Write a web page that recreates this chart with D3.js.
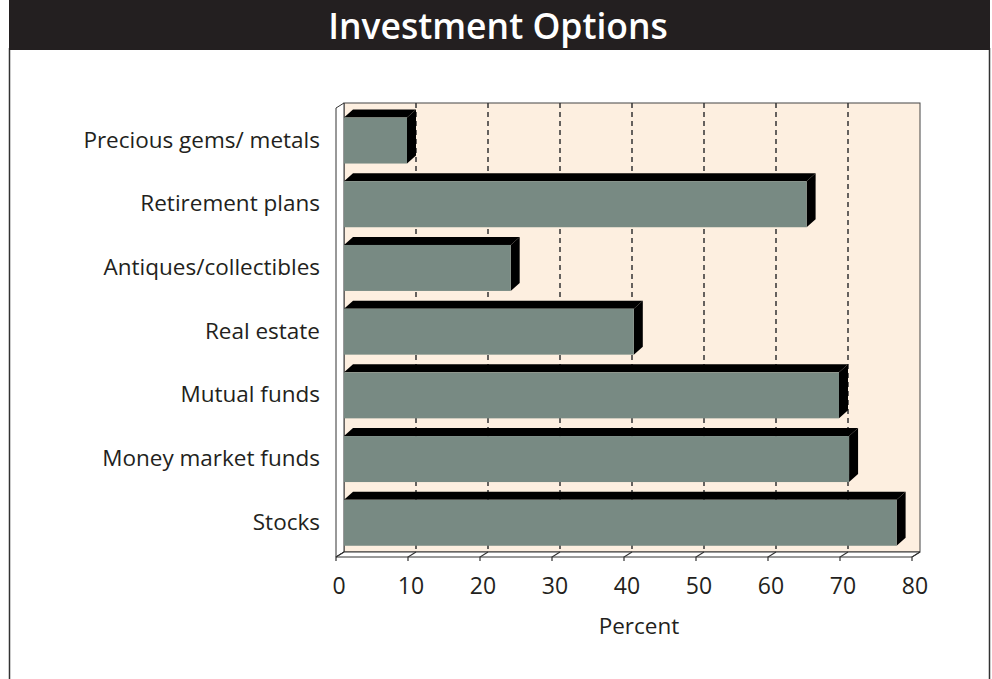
<!DOCTYPE html>
<html>
<head>
<meta charset="utf-8">
<script src="https://cdn.jsdelivr.net/npm/d3@7"></script>
<style>
    body { margin: 0; background: #ffffff; }
    #visual { width: 992px; height: 679px; }
    text { font-family: "Open Sans", "DejaVu Sans", sans-serif; fill: #231f20; }
</style>
</head>
<body>
<div id="visual"></div>
<script>
// chart data
var categories = ['Precious gems/ metals', 'Retirement plans', 'Antiques/collectibles',
    'Real estate', 'Mutual funds', 'Money market funds', 'Stocks'];
var percents = [10, 65.5, 24.4, 41.5, 70, 71.4, 78];
var tickValues = [0, 10, 20, 30, 40, 50, 60, 70, 80];
var gridValues = [10, 20, 30, 40, 50, 60, 70];

var width = 992, height = 679;

// 3d offsets (back wall vs front plane, bar depth)
var depth = { dx: 8, dy: 5 };
var barDepth = { dx: 9, dy: 8 };

var wall = { left: 344, right: 920, top: 103, bottom: 552 };

var svg = d3.select('#visual')
    .append('svg')
    .attr('width', width)
    .attr('height', height);

// frame + title bar
svg.append('line')
    .attr('x1', 9.5).attr('x2', 9.5).attr('y1', 48).attr('y2', height)
    .attr('stroke', '#333').attr('stroke-width', 1.5);
svg.append('line')
    .attr('x1', 989.5).attr('x2', 989.5).attr('y1', 48).attr('y2', height)
    .attr('stroke', '#333').attr('stroke-width', 1.5);
svg.append('rect')
    .attr('x', 9).attr('y', 0).attr('width', 981).attr('height', 50)
    .attr('fill', '#231f20');
svg.append('text')
    .attr('x', 498).attr('y', 39)
    .attr('text-anchor', 'middle')
    .style('fill', '#ffffff')
    .style('font-weight', '600')
    .style('font-size', '35.5px')
    .text('Investment Options');

// scales: back wall and front plane share the same domain
var x_scale = d3.scaleLinear()
    .domain([0, 80])
    .range([wall.left, wall.right]);

var x_front = d3.scaleLinear()
    .domain([0, 80])
    .range([wall.left - depth.dx, wall.right - depth.dx]);

var y_scale = d3.scaleBand()
    .domain(categories)
    .range([104.8, 558.5])
    .paddingInner(0.278)
    .paddingOuter(0.2);

// back wall
svg.append('rect')
    .attr('x', wall.left).attr('y', wall.top)
    .attr('width', wall.right - wall.left).attr('height', wall.bottom - wall.top)
    .attr('fill', '#fdefe0')
    .attr('stroke', '#444').attr('stroke-width', 1);

// left wall
svg.append('polygon')
    .attr('points', [
        [wall.left - depth.dx, wall.top + depth.dy],
        [wall.left, wall.top],
        [wall.left, wall.bottom],
        [wall.left - depth.dx, wall.bottom + depth.dy]
    ].join(' '))
    .attr('fill', '#ffffff')
    .attr('stroke', '#333').attr('stroke-width', 1);

// floor
svg.append('polygon')
    .attr('points', [
        [x_front(0), wall.bottom + depth.dy],
        [x_scale(0), wall.bottom],
        [x_scale(80), wall.bottom],
        [x_front(80), wall.bottom + depth.dy]
    ].join(' '))
    .attr('fill', '#ffffff')
    .attr('stroke', '#333').attr('stroke-width', 1);

// dashed gridlines on the back wall
svg.selectAll('.grid')
    .data(gridValues)
    .enter().append('line')
    .attr('class', 'grid')
    .attr('x1', function (d) { return x_scale(d); })
    .attr('x2', function (d) { return x_scale(d); })
    .attr('y1', wall.top)
    .attr('y2', wall.bottom)
    .attr('stroke', '#333')
    .attr('stroke-width', 1.5)
    .attr('stroke-dasharray', '5,4');

// ticks on the floor + below it
var ticks = svg.selectAll('.tick')
    .data(tickValues)
    .enter().append('g')
    .attr('class', 'tick');

ticks.append('path')
    .attr('d', function (d) {
        var fx = x_front(d), fy = wall.bottom + depth.dy;
        return 'M' + fx + ',' + (fy + 4) + 'L' + fx + ',' + fy + 'L' + x_scale(d) + ',' + wall.bottom;
    })
    .attr('fill', 'none')
    .attr('stroke', '#333')
    .attr('stroke-width', 1.2);

ticks.append('text')
    .attr('x', function (d) { return x_front(d) + 3; })
    .attr('y', 594)
    .attr('text-anchor', 'middle')
    .style('font-size', '23px')
    .text(function (d) { return d; });

svg.append('text')
    .attr('x', 639).attr('y', 634)
    .attr('text-anchor', 'middle')
    .style('font-size', '22.5px')
    .text('Percent');

// bars
var bars = svg.selectAll('.bar')
    .data(categories.map(function (c, i) { return { name: c, value: percents[i] }; }))
    .enter().append('g')
    .attr('class', 'bar');

var bw = y_scale.bandwidth();

// top face
bars.append('polygon')
    .attr('points', function (d) {
        var y0 = y_scale(d.name), x0 = x_scale(0), x1 = x_scale(d.value);
        return [[x0, y0], [x0 + barDepth.dx, y0 - barDepth.dy],
            [x1, y0 - barDepth.dy], [x1 - barDepth.dx, y0]].join(' ');
    })
    .attr('fill', '#000000');

// side face
bars.append('polygon')
    .attr('points', function (d) {
        var y0 = y_scale(d.name), x1 = x_scale(d.value);
        return [[x1 - barDepth.dx, y0], [x1, y0 - barDepth.dy],
            [x1, y0 + bw - barDepth.dy], [x1 - barDepth.dx, y0 + bw]].join(' ');
    })
    .attr('fill', '#000000');

// front face
bars.append('rect')
    .attr('x', x_scale(0))
    .attr('y', function (d) { return y_scale(d.name); })
    .attr('width', function (d) { return x_scale(d.value) - barDepth.dx - x_scale(0); })
    .attr('height', bw)
    .attr('fill', '#788a83');

// category labels
svg.selectAll('.cat')
    .data(categories)
    .enter().append('text')
    .attr('class', 'cat')
    .attr('x', 320)
    .attr('y', function (d) { return y_scale(d) + bw / 2 + 7; })
    .attr('text-anchor', 'end')
    .style('font-size', '22.5px')
    .text(function (d) { return d; });
</script>
</body>
</html>
